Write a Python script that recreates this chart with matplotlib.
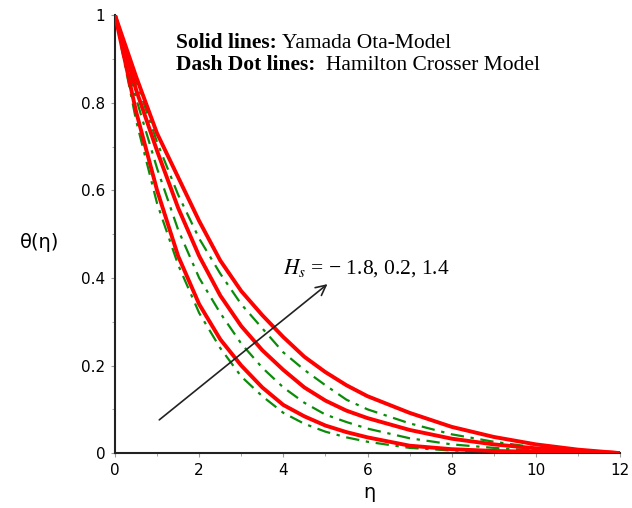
import matplotlib
matplotlib.use("Agg")
import matplotlib.pyplot as plt
from matplotlib.ticker import MultipleLocator

eta = [0, 0.5, 1, 1.5, 2, 2.5, 3, 3.5, 4, 4.5, 5, 5.5, 6, 7, 8, 9, 10, 11, 12]

# Yamada Ota model (solid red), Hs = -1.8, 0.2, 1.4
yo_low  = [1, 0.78, 0.60, 0.45, 0.34, 0.26, 0.20, 0.15, 0.11, 0.084, 0.063, 0.048, 0.036, 0.017, 0.009, 0.005, 0.003, 0.001, 0]
yo_mid  = [1, 0.83, 0.69, 0.56, 0.45, 0.36, 0.29, 0.235, 0.19, 0.15, 0.12, 0.097, 0.08, 0.053, 0.033, 0.02, 0.011, 0.005, 0]
yo_high = [1, 0.86, 0.73, 0.63, 0.53, 0.44, 0.37, 0.315, 0.265, 0.22, 0.185, 0.155, 0.13, 0.092, 0.06, 0.037, 0.02, 0.008, 0]

# Hamilton Crosser model (green dash-dot)
hc_low  = [1, 0.76, 0.57, 0.43, 0.32, 0.24, 0.175, 0.13, 0.092, 0.067, 0.049, 0.036, 0.026, 0.012, 0.006, 0.003, 0.002, 0.001, 0]
hc_mid  = [1, 0.81, 0.65, 0.51, 0.40, 0.32, 0.25, 0.195, 0.15, 0.115, 0.088, 0.071, 0.056, 0.034, 0.02, 0.012, 0.006, 0.003, 0]
hc_high = [1, 0.85, 0.71, 0.59, 0.49, 0.41, 0.34, 0.285, 0.23, 0.19, 0.155, 0.122, 0.10, 0.068, 0.043, 0.026, 0.013, 0.005, 0]

x_ticks = [0, 2, 4, 6, 8, 10, 12]
y_ticks = [0, 0.2, 0.4, 0.6, 0.8, 1]
y_tick_labels = ["0", "0.2", "0.4", "0.6", "0.8", "1"]

plt.rcParams['mathtext.fontset'] = 'stix'

fig = plt.figure(figsize=(6.32, 5.08), dpi=100)
ax = fig.add_axes([0.182, 0.108, 0.799, 0.862])

red = "#ff0000"
green = "#0a8c0a"
for ys in (hc_low, hc_mid, hc_high):
    ax.plot(eta, ys, color=green, lw=1.6, dashes=(6, 3, 1.5, 3), zorder=2)
for ys in (yo_low, yo_mid, yo_high):
    ax.plot(eta, ys, color=red, lw=2.8, solid_joinstyle='round', zorder=3)

ax.set_xlim(0, 12)
ax.set_ylim(0, 1)
ax.set_xticks(x_ticks)
ax.set_xticklabels([str(t) for t in x_ticks])
ax.set_yticks(y_ticks)
ax.set_yticklabels(y_tick_labels)
ax.xaxis.set_minor_locator(MultipleLocator(1))
ax.yaxis.set_minor_locator(MultipleLocator(0.1))
ax.tick_params(which='both', direction='out', color='#999999', labelsize=11, pad=4)
ax.tick_params(which='major', length=3)
ax.tick_params(which='minor', length=2)
for s in ('top', 'right'):
    ax.spines[s].set_visible(False)
for s in ('left', 'bottom'):
    ax.spines[s].set_linewidth(1.5)
    ax.spines[s].set_color('#222222')

fig.text(0.063, 0.522, "θ(η)", fontsize=14, ha='center', va='center')
fig.text(0.585, 0.03, "η", fontsize=14, ha='center', va='center')

# annotation texts
serif = "Liberation Serif"
fig.canvas.draw()
r = fig.canvas.get_renderer()
def mixed(x, y, bold, regular):
    t = fig.text(x, y, bold, fontsize=15.5, fontweight='bold', family=serif, va='baseline')
    bb = t.get_window_extent(renderer=r)
    x2 = bb.x1 / fig.bbox.width
    fig.text(x2, y, regular, fontsize=15.5, family=serif, va='baseline')

mixed(0.279, 0.905, "Solid lines: ", "Yamada Ota-Model")
mixed(0.279, 0.863, "Dash Dot lines:  ", "Hamilton Crosser Model")

ax.text(4.0, 0.41, r"$H_s$" + " = \u2212 1.8, 0.2, 1.4", fontsize=15.5, family=serif)
ax.annotate("", xy=(5.1, 0.39), xytext=(1.0, 0.072),
            arrowprops=dict(arrowstyle='->', color='#222222', lw=1.2, mutation_scale=18))

fig.savefig("out.png", dpi=100)
